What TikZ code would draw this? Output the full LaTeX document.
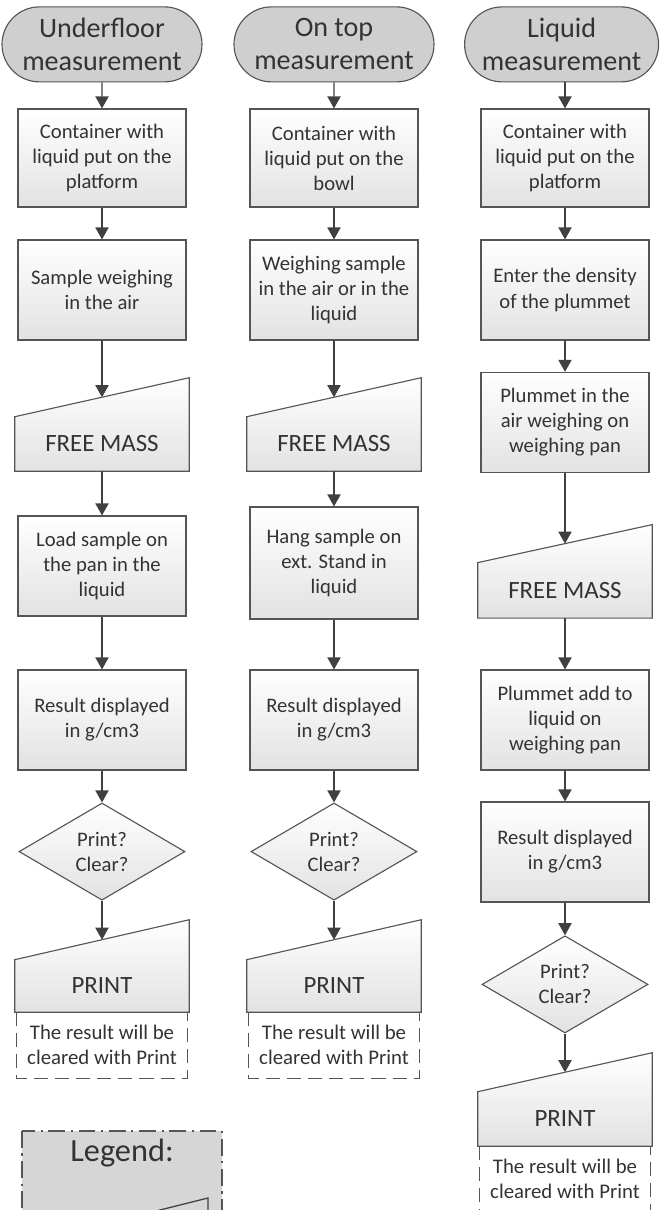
\documentclass[tikz,border=0pt]{standalone}
\usepackage{fontspec}
\setmainfont{Carlito}
\usetikzlibrary{arrows.meta, positioning, calc, shapes.geometric, shapes.misc, backgrounds}
\definecolor{lineg}{HTML}{555555}
\definecolor{arrowg}{HTML}{404040}
\definecolor{termg}{HTML}{CFCFCF}
\definecolor{boxlo}{HTML}{E2E2E2}
\definecolor{txtg}{HTML}{333333}
\definecolor{legg}{HTML}{D6D6D6}

\begin{document}
\begin{tikzpicture}[
  >={Triangle[length=3mm, width=3.3mm]},
  every node/.style={text=txtg, align=center},
  term/.style={rounded rectangle, draw=lineg, fill=termg, line width=0.8pt,
    minimum width=5cm, minimum height=1.875cm, inner sep=0pt,
    font=\fontsize{20}{23.5}\selectfont},
  proc/.style={rectangle, draw=lineg, top color=white, bottom color=boxlo,
    line width=0.8pt, minimum width=4.2cm, minimum height=2.5cm, inner sep=0pt,
    font=\fontsize{14.7}{17.8}\selectfont},
  ask/.style={diamond, aspect=1.7, draw=lineg, top color=white, bottom color=boxlo,
    line width=0.8pt, minimum width=4.15cm, minimum height=2.43cm, inner sep=0pt,
    font=\fontsize{14.7}{17.8}\selectfont},
  manin/.style={rectangle, minimum width=4.35cm, minimum height=1.35cm, inner sep=0pt,
    font=\fontsize{17.7}{20}\selectfont},
  note/.style={rectangle, minimum width=4.275cm, minimum height=1.65cm, inner sep=0pt,
    font=\fontsize{14.8}{17.8}\selectfont},
  flow/.style={->, draw=arrowg, line width=0.9pt},
]

\useasboundingbox (0,0) rectangle (16.475,30.25);
\clip (0,0) rectangle (16.475,30.25);

% Column 1: underfloor
\node[term] (uf start) at (2.55,29.14) {Underfloor\\measurement};
\node[proc, minimum height=2.45cm] (uf cont) at (2.55,26.30) {Container with\\liquid put on the\\platform};
\node[proc] (uf air) at (2.55,23.00) {Sample weighing\\in the air};
\node[manin] (uf free) at (2.55,19.15) {FREE MASS};
\node[proc] (uf load) at (2.55,16.10) {Load sample on\\the pan in the\\liquid};
\node[proc] (uf result) at (2.55,12.25) {Result displayed\\in g/cm3};
\node[ask] (uf ask) at (2.55,8.96) {Print?\\Clear?};
\node[manin, minimum height=1.3cm] (uf print) at (2.55,5.60) {PRINT};
\node[note] (uf note) at (2.55,4.125) {The result will be\\cleared with Print};

% Column 2: on top
\node[term] (ot start) at (8.35,29.14) {On top\\measurement};
\node[proc, minimum height=2.45cm] (ot cont) at (8.35,26.30) {Container with\\liquid put on the\\bowl};
\node[proc] (ot air) at (8.35,23.00) {Weighing sample\\in the air or in the\\liquid};
\node[manin] (ot free) at (8.35,19.15) {FREE MASS};
\node[proc, minimum height=2.8cm] (ot hang) at (8.35,16.175) {Hang sample on\\ext. Stand in\\liquid};
\node[proc] (ot result) at (8.35,12.25) {Result displayed\\in g/cm3};
\node[ask] (ot ask) at (8.35,8.96) {Print?\\Clear?};
\node[manin, minimum height=1.3cm] (ot print) at (8.35,5.60) {PRINT};
\node[note] (ot note) at (8.35,4.125) {The result will be\\cleared with Print};

% Column 3: liquid
\node[term, minimum width=4.85cm] (lq start) at (14.04,29.14) {Liquid\\measurement};
\node[proc, minimum height=2.45cm] (lq cont) at (14.125,26.30) {Container with\\liquid put on the\\platform};
\node[proc] (lq dens) at (14.125,23.00) {Enter the density\\of the plummet};
\node[proc] (lq air) at (14.125,19.69) {Plummet in the\\air weighing on\\weighing pan};
\node[manin, minimum height=1.375cm] (lq free) at (14.125,15.49) {FREE MASS};
\node[proc] (lq add) at (14.125,12.25) {Plummet add to\\liquid on\\weighing pan};
\node[proc] (lq result) at (14.125,8.95) {Result displayed\\in g/cm3};
\node[ask] (lq ask) at (14.125,5.64) {Print?\\Clear?};
\node[manin] (lq print) at (14.125,2.275) {PRINT};
\node[note] (lq note) at (14.125,0.775) {The result will be\\cleared with Print};

% Manual input outlines (slanted top)
\begin{scope}[on background layer]
  \foreach \n/\r in {uf free/0.975, ot free/0.975, lq free/0.95,
                     uf print/1.0, ot print/1.0, lq print/0.975}
    \draw[draw=lineg, line width=0.8pt, top color=white, bottom color=boxlo]
      (\n.south west) -- (\n.south east) -- ([yshift=\r cm]\n.north east)
      -- (\n.north west) -- cycle;
\end{scope}
% entry points in the middle of the slanted tops
\foreach \n/\r in {uf free/0.975, ot free/0.975, lq free/0.95,
                   uf print/1.0, ot print/1.0, lq print/0.975}
  \coordinate (\n-in) at ([yshift=\r cm/2]\n.north);

% Annotations
\foreach \n in {uf note, ot note, lq note}
  \draw[lineg, line width=0.7pt, dash pattern=on 10pt off 5pt]
    (\n.north west) -- (\n.south west) -- (\n.south east) -- (\n.north east);

% Connectors
\draw[flow] (uf start) -- (uf cont);
\draw[flow] (uf cont) -- (uf air);
\draw[flow] (uf air) -- (uf free-in);
\draw[flow] (uf free) -- (uf load);
\draw[flow] (uf load) -- (uf result);
\draw[flow] (uf result) -- (uf ask);
\draw[flow] (uf ask) -- (uf print-in);

\draw[flow] (ot start) -- (ot cont);
\draw[flow] (ot cont) -- (ot air);
\draw[flow] (ot air) -- (ot free-in);
\draw[flow] (ot free) -- (ot hang);
\draw[flow] (ot hang) -- (ot result);
\draw[flow] (ot result) -- (ot ask);
\draw[flow] (ot ask) -- (ot print-in);

\draw[flow] (lq start.south -| lq cont) -- (lq cont);
\draw[flow] (lq cont) -- (lq dens);
\draw[flow] (lq dens) -- (lq air);
\draw[flow] (lq air) -- (lq free-in);
\draw[flow] (lq free) -- (lq add);
\draw[flow] (lq add) -- (lq result);
\draw[flow] (lq result) -- (lq ask);
\draw[flow] (lq ask) -- (lq print-in);

% Legend (cut off at the bottom)
\draw[fill=legg, draw=lineg, line width=1.1pt, dash pattern=on 12pt off 4pt on 1.5pt off 4pt]
  (0.55,1.975) rectangle (5.55,-1.5);
\node[font=\fontsize{23}{26}\selectfont] (leg title) at (3.05,1.42) {Legend:};
\draw[draw=arrowg, line width=0.9pt] (1.0,-0.75) -- (5.2,0.3) -- (5.2,-1.2);

\end{tikzpicture}
\end{document}
